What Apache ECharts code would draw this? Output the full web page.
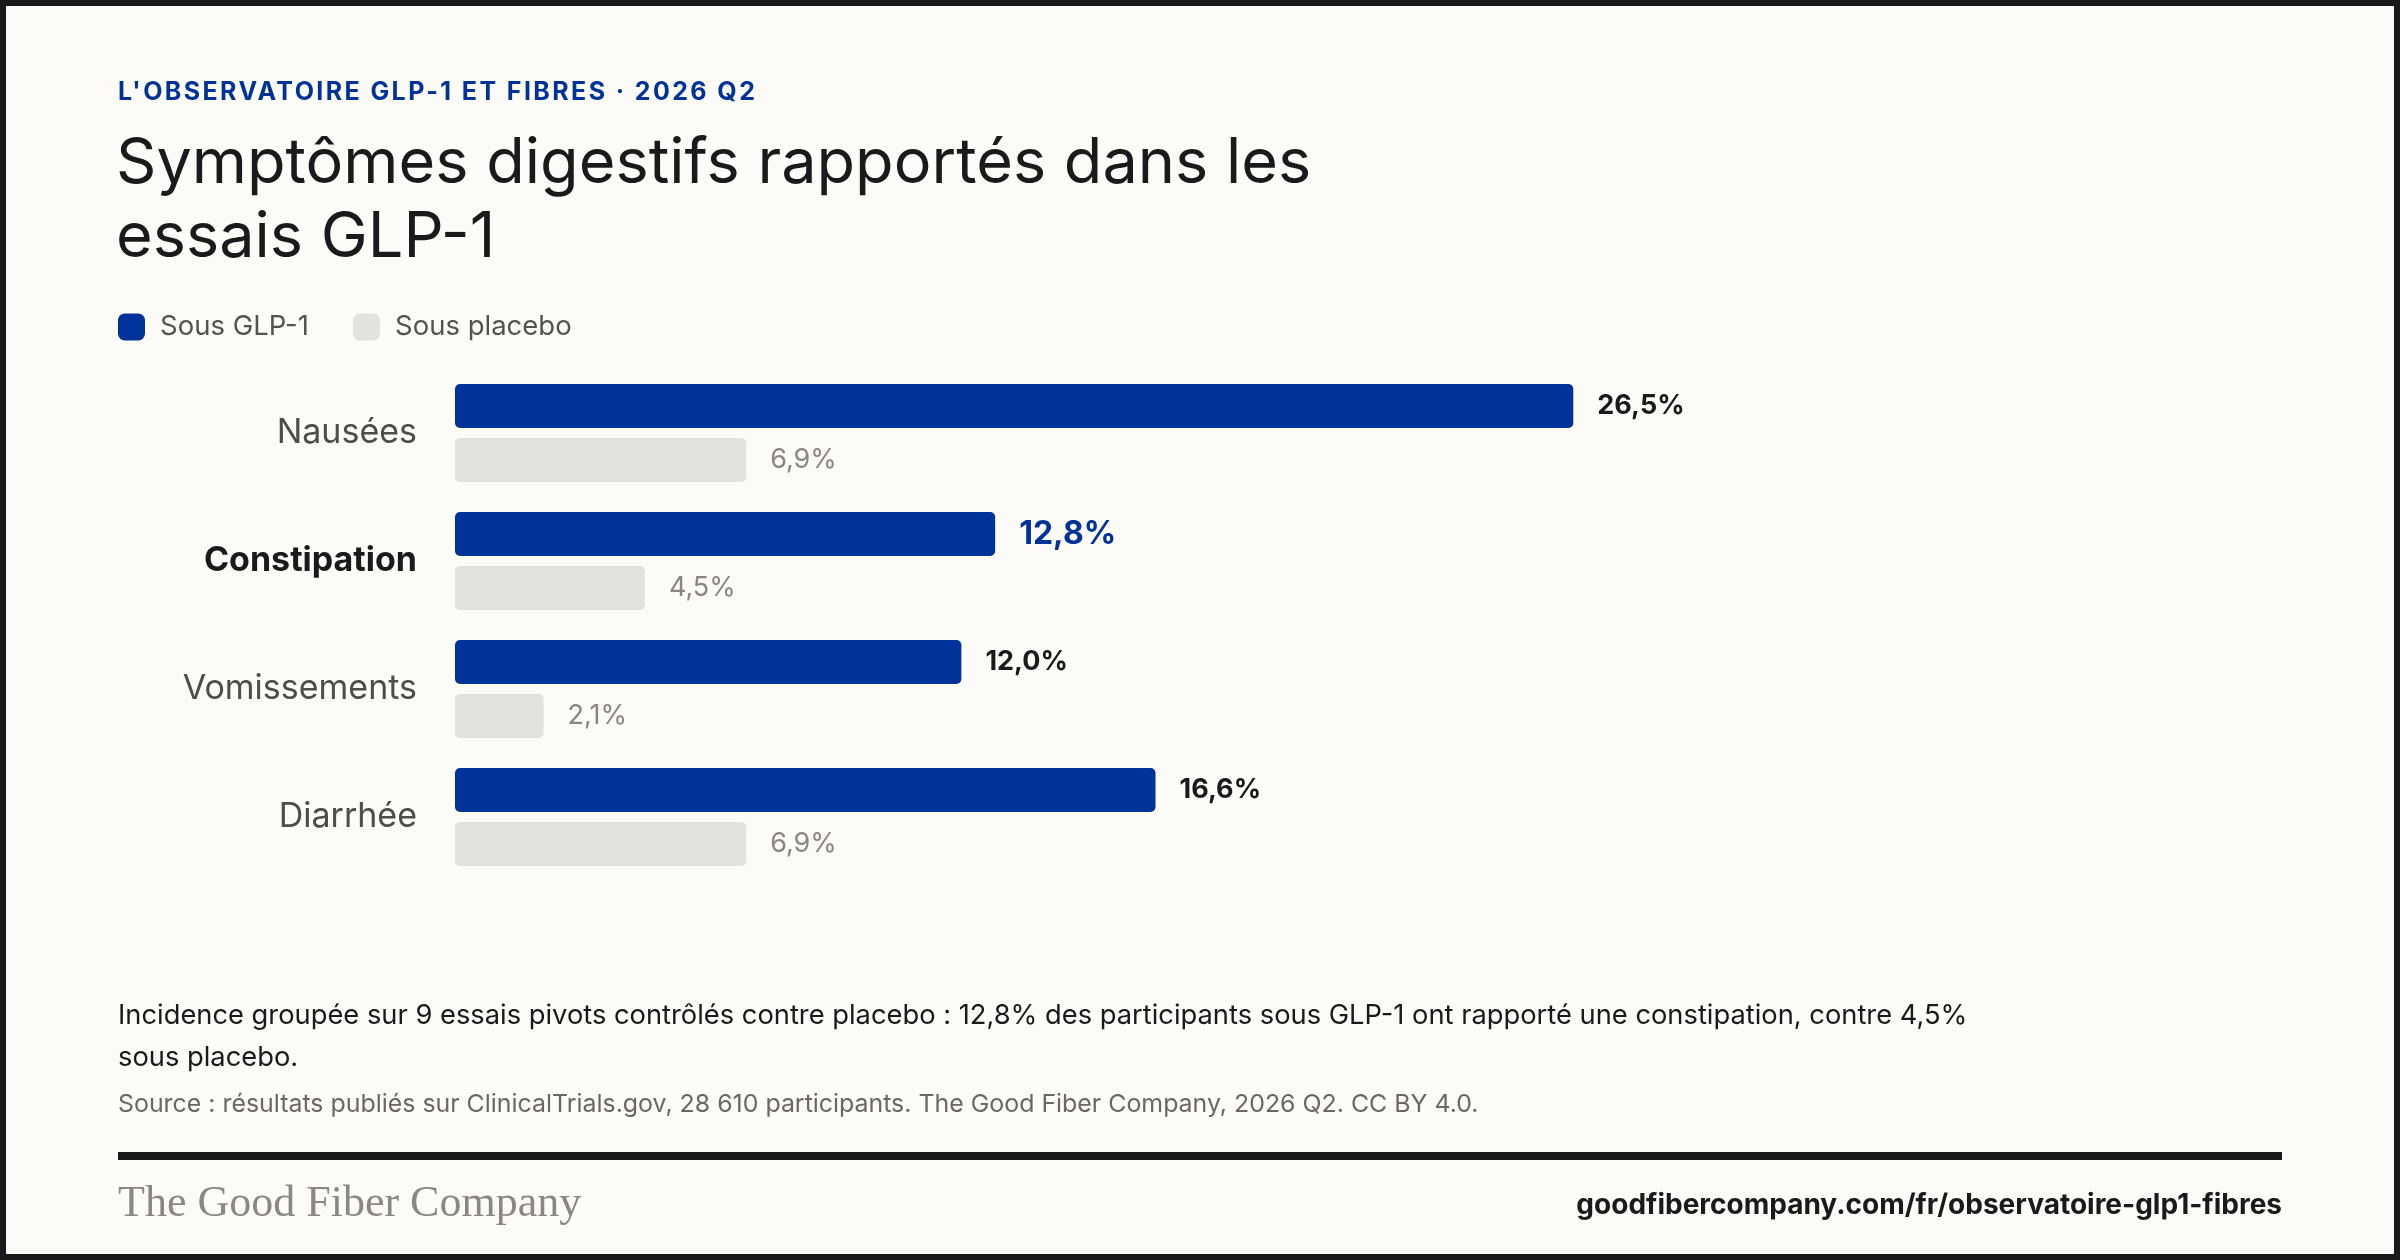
<!DOCTYPE html>
<html>
<head>
<meta charset="utf-8">
<script src="https://cdn.jsdelivr.net/npm/echarts@6/dist/echarts.min.js"></script>
<style>
html,body{margin:0;padding:0;background:#fcfbf8;}
#c{width:2400px;height:1260px;}
</style>
</head>
<body>
<div id="c"></div>
<script>
const categories = ['Nausées', 'Constipation', 'Vomissements', 'Diarrhée'];
const glp1Values = [26.5, 12.8, 12.0, 16.6];
const placeboValues = [6.9, 4.5, 2.1, 6.9];
const seriesNames = ['Sous GLP-1', 'Sous placebo'];
const highlight = 'Constipation';
const kickerText = "L'OBSERVATOIRE GLP-1 ET FIBRES · 2026 Q2";

const BLUE = '#003399';
const GREY_BAR = '#e4e2dd';
const FONT = 'Inter, "Noto Sans", sans-serif';

// tracked (letter-spaced) kicker text only
(function () {
  const proto = CanvasRenderingContext2D.prototype;
  const origFill = proto.fillText;
  proto.fillText = function (t) {
    if ('letterSpacing' in this) {
      const want = (t === kickerText) ? '2.4px' : '0px';
      if (this.letterSpacing !== want) {
        const f = this.font;
        this.letterSpacing = want;
        this.font = f;
      }
    }
    return origFill.apply(this, arguments);
  };
})();

const fmt = v => v.toFixed(1).replace('.', ',') + '%';

const chart = echarts.init(document.getElementById('c'), null, {renderer: 'canvas'});

const glpData = glp1Values.map((v, i) => {
  const d = {value: v};
  if (categories[i] === highlight) {
    d.label = {color: BLUE, fontSize: 32, fontWeight: 'bold'};
  }
  return d;
});

const legendBase = {
  top: 313, itemWidth: 27, itemHeight: 27, padding: 0,
  icon: 'roundRect', itemGap: 0,
  textStyle: {fontSize: 27.5, color: '#555350', fontFamily: FONT, padding: [0, 0, 0, 10]}
};

chart.setOption({
  backgroundColor: '#fcfbf8',
  animation: false,
  textStyle: {fontFamily: FONT},
  legend: [
    Object.assign({data: [seriesNames[0]], left: 118}, legendBase),
    Object.assign({data: [seriesNames[1]], left: 353}, legendBase)
  ],
  grid: {left: 455, top: 369, width: 1266, height: 512, containLabel: false},
  xAxis: {
    type: 'value', min: 0, max: 30, show: false
  },
  yAxis: {
    type: 'category', data: categories, inverse: true,
    axisLine: {show: false}, axisTick: {show: false}, splitLine: {show: false},
    axisLabel: {
      margin: 38,
      formatter: v => v === highlight ? '{b|' + v + '}' : '{n|' + v + '}',
      rich: {
        n: {fontSize: 34, color: '#4f4d4a', fontFamily: FONT},
        b: {fontSize: 34, color: '#1a1a1a', fontWeight: 'bold', fontFamily: FONT}
      }
    }
  },
  series: [
    {
      name: seriesNames[0], type: 'bar', data: glpData, barWidth: 44, barGap: '22.7%',
      itemStyle: {color: BLUE, borderRadius: 5},
      label: {
        show: true, position: 'right', distance: 24,
        formatter: p => fmt(p.value),
        fontSize: 27, fontWeight: 'bold', color: '#1a1a1a', fontFamily: FONT
      }
    },
    {
      name: seriesNames[1], type: 'bar', data: placeboValues, barWidth: 44,
      itemStyle: {color: GREY_BAR, borderRadius: 5},
      label: {
        show: true, position: 'right', distance: 24,
        formatter: p => fmt(p.value),
        fontSize: 27, color: '#8a8680', fontFamily: FONT
      }
    }
  ],
  graphic: [
    {type: 'rect', silent: true, z: 100, shape: {x: 3, y: 3, width: 2394, height: 1254},
      style: {fill: null, stroke: '#1a1a1a', lineWidth: 6}},
    {type: 'text', left: 118, top: 80, style: {
      text: kickerText, fontSize: 25, fontWeight: 'bold',
      fill: BLUE, fontFamily: FONT}},
    {type: 'text', left: 116, top: 127, style: {
      text: 'Symptômes digestifs rapportés dans les\nessais GLP-1', fontSize: 63, lineHeight: 74,
      fill: '#1a1a1a', fontFamily: FONT}},
    {type: 'text', left: 118, top: 995, style: {
      text: 'Incidence groupée sur 9 essais pivots contrôlés contre placebo : 12,8% des participants sous GLP-1 ont rapporté une constipation, contre 4,5%\nsous placebo.',
      fontSize: 27.3, lineHeight: 42, fill: '#1a1a1a', fontFamily: FONT}},
    {type: 'text', left: 118, top: 1092, style: {
      text: 'Source : résultats publiés sur ClinicalTrials.gov, 28 610 participants. The Good Fiber Company, 2026 Q2. CC BY 4.0.',
      fontSize: 24.9, fill: '#6b6864', fontFamily: FONT}},
    {type: 'rect', silent: true, shape: {x: 118, y: 1152, width: 2164, height: 8},
      style: {fill: '#1a1a1a'}},
    {type: 'text', left: 118, top: 1182, style: {
      text: 'The Good Fiber Company', fontSize: 44, fill: '#8a8784',
      fontFamily: '"Liberation Serif", "DejaVu Serif", serif'}},
    {type: 'text', right: 118, top: 1192, style: {
      text: 'goodfibercompany.com/fr/observatoire-glp1-fibres', fontSize: 28, fontWeight: 'bold',
      fill: '#1a1a1a', fontFamily: FONT}}
  ]
});
</script>
</body>
</html>
